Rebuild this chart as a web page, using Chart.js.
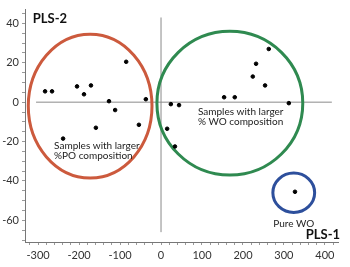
<!DOCTYPE html>
<html>
<head>
<meta charset="utf-8">
<script src="https://cdn.jsdelivr.net/npm/chart.js@4.4.0/dist/chart.umd.min.js"></script>
<style>
  html, body { margin: 0; padding: 0; background: #fff; }
  #wrap { width: 350px; height: 267px; }
</style>
</head>
<body>
<div id="wrap"><canvas id="plsChart"></canvas></div>
<script>
// PLS scores (PLS-1 on x, PLS-2 on y)
const scoreX = [-283, -266, -205, -171, -188, -85, -127, -112, -37, -159, -54, -239,
                24, 44, 15, 34, 154, 180, 254, 224, 232, 263, 312, 327];
const scoreY = [5.5, 5.5, 8, 8.5, 4, 20.5, 0.5, -4, 1.5, -13, -11.5, -18.5,
                -1, -1.5, -13.5, -22.5, 2.5, 2.5, 8.5, 13, 19.5, 27, -0.5, -45.5];

// group ellipses
const groupNames = ['PO', 'WO', 'Pure WO'];
const groupCx = [-173, 168, 324];
const groupCy = [-2, -0.5, -46];
const groupRx = [151, 178, 51];
const groupRy = [36.5, 36.5, 10];
const groupColors = ['#cc5a3d', '#2f8a50', '#2d4f9c'];

// tick labels
const xTickLabels = [-300, -200, -100, 0, 100, 200, 300, 400];
const yTickLabels = [40, 20, 0, -20, -40, -60];

// notes drawn in the plot
const noteText = ['Samples with larger', '%PO composition', 'Samples with larger', '% WO composition', 'Pure WO'];
const noteX = [-261, -261, 90, 90, 324];
const noteY = [-22, -27, -5, -10, -62];
const noteAlign = ['left', 'left', 'left', 'left', 'center'];

var points = scoreX.map(function (x, i) { return { x: x, y: scoreY[i] }; });

var overlay = {
    id: 'overlay',
    beforeDatasetsDraw: function (chart) {
        var ctx = chart.ctx;
        var xs = chart.scales.x, ys = chart.scales.y;
        ctx.save();
        // zero lines
        ctx.strokeStyle = '#8a8a8a';
        ctx.lineWidth = 1;
        ctx.beginPath();
        ctx.moveTo(xs.getPixelForValue(-305), ys.getPixelForValue(0));
        ctx.lineTo(xs.getPixelForValue(417), ys.getPixelForValue(0));
        ctx.moveTo(xs.getPixelForValue(0), ys.getPixelForValue(43));
        ctx.lineTo(xs.getPixelForValue(0), ys.getPixelForValue(-66));
        ctx.stroke();
        // ellipses
        for (var i = 0; i < groupNames.length; i++) {
            var cx = xs.getPixelForValue(groupCx[i]);
            var cy = ys.getPixelForValue(groupCy[i]);
            var rx = Math.abs(xs.getPixelForValue(groupCx[i] + groupRx[i]) - cx);
            var ry = Math.abs(ys.getPixelForValue(groupCy[i] + groupRy[i]) - cy);
            ctx.strokeStyle = groupColors[i];
            ctx.lineWidth = 3;
            ctx.beginPath();
            ctx.ellipse(cx, cy, rx, ry, 0, 0, Math.PI * 2);
            ctx.stroke();
        }
        // notes
        ctx.fillStyle = '#222';
        ctx.font = '10px Lato';
        ctx.textBaseline = 'middle';
        for (var j = 0; j < noteText.length; j++) {
            ctx.textAlign = noteAlign[j];
            ctx.fillText(noteText[j], xs.getPixelForValue(noteX[j]), ys.getPixelForValue(noteY[j]));
        }
        // axis names
        ctx.font = 'bold 13px Lato';
        ctx.fillStyle = '#111';
        ctx.textAlign = 'left';
        ctx.fillText('PLS-2', xs.getPixelForValue(-313), ys.getPixelForValue(42.5));
        ctx.textAlign = 'right';
        ctx.fillText('PLS-1', xs.getPixelForValue(437), ys.getPixelForValue(-67.5));
        ctx.restore();
    }
};

function stepTicks(lo, hi, step) {
    var out = [];
    for (var v = lo; v <= hi; v += step) out.push({ value: v });
    return out;
}

new Chart(document.getElementById('plsChart'), {
    type: 'scatter',
    data: {
        datasets: [{
            label: 'Samples',
            data: points,
            backgroundColor: '#000',
            borderColor: '#000',
            pointRadius: 1.8,
            pointHoverRadius: 1.8
        }]
    },
    options: {
        responsive: true,
        maintainAspectRatio: false,
        animation: false,
        events: [],
        layout: { padding: { top: 5, right: 12, left: 0, bottom: 0 } },
        plugins: { legend: { display: false }, tooltip: { enabled: false } },
        scales: {
            x: {
                type: 'linear',
                min: -332,
                max: 432,
                afterBuildTicks: function (scale) { scale.ticks = stepTicks(-320, 420, 20); },
                afterFit: function (scale) { scale.height = 25; },
                border: { color: '#777', width: 1 },
                grid: { drawOnChartArea: false, drawTicks: true, tickLength: 3, color: '#999' },
                ticks: {
                    padding: 4,
                    maxRotation: 0,
                    autoSkip: false,
                    color: '#333',
                    font: { family: 'Lato', size: 11 },
                    callback: function (v) { return xTickLabels.indexOf(v) >= 0 ? String(v) : ''; }
                }
            },
            y: {
                type: 'linear',
                min: -71,
                max: 47,
                afterBuildTicks: function (scale) { scale.ticks = stepTicks(-70, 45, 5); },
                afterFit: function (scale) { scale.width = 25; },
                border: { color: '#777', width: 1 },
                grid: { drawOnChartArea: false, drawTicks: true, tickLength: 3, color: '#999' },
                ticks: {
                    padding: 3,
                    autoSkip: false,
                    color: '#333',
                    font: { family: 'Lato', size: 11 },
                    callback: function (v) { return yTickLabels.indexOf(v) >= 0 ? String(v) : ''; }
                }
            }
        }
    },
    plugins: [overlay]
});
</script>
</body>
</html>
